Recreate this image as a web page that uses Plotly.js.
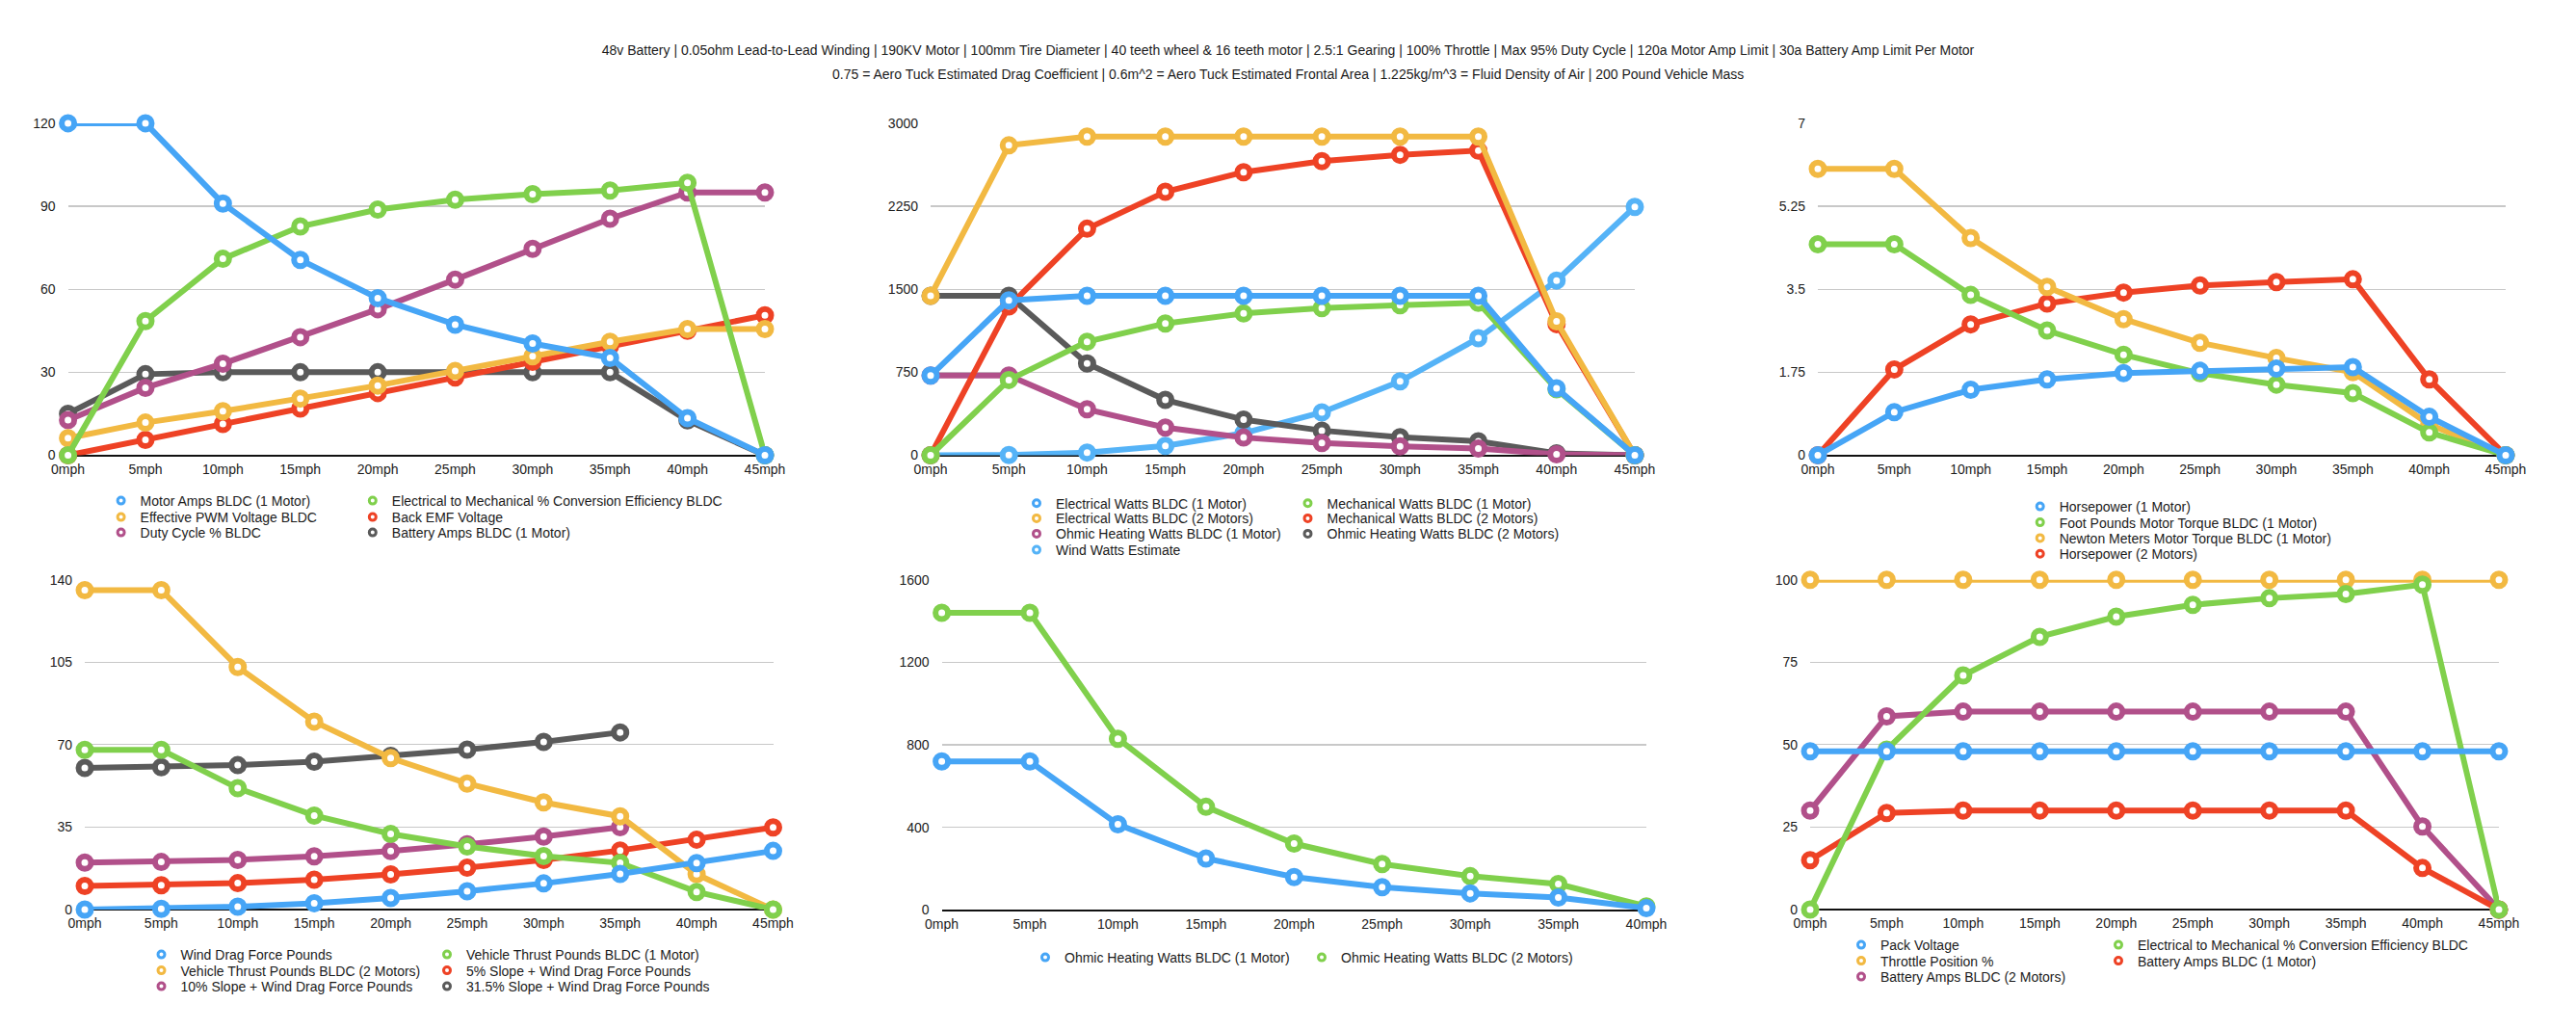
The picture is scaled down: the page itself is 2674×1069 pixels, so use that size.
<!DOCTYPE html>
<html>
<head>
<meta charset="utf-8">
<script src="https://cdn.plot.ly/plotly-3.0.1.min.js"></script>
<style>
  html, body { margin: 0; padding: 0; background: #fff; }
  #chart { width: 2674px; height: 1069px; }
</style>
</head>
<body>
<div id="chart"></div>
<script>
const speeds = ['0mph', '5mph', '10mph', '15mph', '20mph', '25mph', '30mph', '35mph', '40mph', '45mph'];
const speedsTo40 = ['0mph', '5mph', '10mph', '15mph', '20mph', '25mph', '30mph', '35mph', '40mph'];

// top left
const motorAmps1 = [120, 120, 91, 70.6, 56.8, 47.2, 40.4, 35.2, 13.4, 0];
const efficiencyPct = [0, 48.5, 71, 82.7, 88.8, 92.4, 94.4, 95.7, 98.5, 0];
const pwmVoltage = [6.2, 11.8, 15.9, 20.5, 25.2, 30.5, 35.8, 41, 45.6, 45.6];
const backEmf = [0, 5.6, 11.3, 16.9, 22.5, 28.1, 33.8, 39.4, 45, 50.6];
const dutyCycle = [12.7, 24.4, 33.1, 42.7, 52.8, 63.5, 74.6, 85.5, 95, 95];
const batteryAmps1 = [15, 29.3, 30, 30, 30, 30, 30, 30, 12.6, 0];

// top middle
const elecWatts1 = [720, 1400, 1440, 1440, 1440, 1440, 1440, 1440, 605, 0];
const mechWatts1 = [0, 680, 1026, 1191, 1281, 1330, 1355, 1377, 596, 0];
const elecWatts2 = [1440, 2800, 2880, 2880, 2880, 2880, 2880, 2880, 1210, 0];
const mechWatts2 = [0, 1345, 2047, 2381, 2558, 2658, 2715, 2754, 1185, 0];
const ohmicWatts1 = [720, 720, 415, 250, 160, 111, 81, 61, 9, 0];
const ohmicWatts2 = [1440, 1440, 830, 500, 322, 223, 164, 126, 18, 0];
const windWatts = [0, 3, 25, 85, 200, 388, 668, 1057, 1579, 2244];

// top right
const hp1 = [0, 0.91, 1.38, 1.6, 1.73, 1.78, 1.83, 1.86, 0.81, 0];
const torqueFtLb = [4.45, 4.45, 3.38, 2.63, 2.12, 1.73, 1.49, 1.31, 0.48, 0];
const torqueNm = [6.04, 6.04, 4.58, 3.55, 2.87, 2.37, 2.05, 1.75, 0.65, 0];
const hp2 = [0, 1.81, 2.76, 3.2, 3.43, 3.58, 3.65, 3.71, 1.6, 0];

// bottom left
const windDragLb = [0, 0.3, 1.2, 2.7, 4.9, 7.8, 11.1, 15.1, 19.7, 24.9];
const thrust1 = [67.8, 67.8, 51.5, 39.9, 32.1, 26.8, 22.7, 19.8, 7.5, 0];
const thrust2 = [135.6, 135.6, 103, 79.8, 64.3, 53.5, 45.5, 39.6, 15, 0];
const slope5 = [10, 10.3, 11.2, 12.7, 14.9, 17.8, 21.1, 25.1, 29.7, 34.9];
const slope10 = [19.9, 20.2, 21.1, 22.6, 24.8, 27.7, 31, 35, null, null];
const slope315 = [60.1, 60.4, 61.3, 62.8, 65.2, 67.9, 71.2, 75.2, null, null];

// bottom middle
const ohmicWatts1To40 = [720, 720, 415, 250, 160, 111, 81, 61, 9];
const ohmicWatts2To40 = [1440, 1440, 830, 500, 322, 223, 164, 126, 18];

// bottom right
const packVoltage = [48, 48, 48, 48, 48, 48, 48, 48, 48, 48];
const throttlePct = [100, 100, 100, 100, 100, 100, 100, 100, 100, 100];
const batteryAmps2 = [30, 58.6, 60, 60, 60, 60, 60, 60, 25.2, 0];

const titleLine1 = '48v Battery | 0.05ohm Lead-to-Lead Winding | 190KV Motor | 100mm Tire Diameter | 40 teeth wheel & 16 teeth motor | 2.5:1 Gearing | 100% Throttle | Max 95% Duty Cycle | 120a Motor Amp Limit | 30a Battery Amp Limit Per Motor';
const titleLine2 = '0.75 = Aero Tuck Estimated Drag Coefficient | 0.6m^2 = Aero Tuck Estimated Frontal Area | 1.225kg/m^3 = Fluid Density of Air | 200 Pound Vehicle Mass';

const W = 2674, H = 1069;
const FONT = '"Liberation Sans", Arial, sans-serif';
const TXT = '#1b1b1b';
const blue = '#46a5f6', green = '#80d04c', yellow = '#f2b942', red = '#ee4225', purple = '#b1508a', gray = '#5a5a5a', lightBlue = '#55b3f7';

// panel geometry in pixels: plot area left/right, bottom (y=0) / top (max tick)
const charts = [
  {cats: speeds, x0: 70.6, x1: 794, yb: 472.5, yt: 127.9, ymax: 120, ticks: [0, 30, 60, 90, 120],
   cols: [124.6, 385.8], rows: [520, 537, 553],
   series: [
     ['Motor Amps BLDC (1 Motor)', motorAmps1, blue],
     ['Electrical to Mechanical % Conversion Efficiency BLDC', efficiencyPct, green],
     ['Effective PWM Voltage BLDC', pwmVoltage, yellow],
     ['Back EMF Voltage', backEmf, red],
     ['Duty Cycle % BLDC', dutyCycle, purple],
     ['Battery Amps BLDC (1 Motor)', batteryAmps1, gray]
   ]},
  {cats: speeds, x0: 966, x1: 1697, yb: 472.5, yt: 127.9, ymax: 3000, ticks: [0, 750, 1500, 2250, 3000],
   cols: [1075, 1356.5], rows: [522.7, 538.3, 554.3, 571],
   series: [
     ['Electrical Watts BLDC (1 Motor)', elecWatts1, blue],
     ['Mechanical Watts BLDC (1 Motor)', mechWatts1, green],
     ['Electrical Watts BLDC (2 Motors)', elecWatts2, yellow],
     ['Mechanical Watts BLDC (2 Motors)', mechWatts2, red],
     ['Ohmic Heating Watts BLDC (1 Motor)', ohmicWatts1, purple],
     ['Ohmic Heating Watts BLDC (2 Motors)', ohmicWatts2, gray],
     ['Wind Watts Estimate', windWatts, lightBlue]
   ]},
  {cats: speeds, x0: 1887, x1: 2601, yb: 472.5, yt: 127.9, ymax: 7, ticks: [0, 1.75, 3.5, 5.25, 7],
   cols: [2116.7], rows: [526, 542.5, 558.8, 575.2],
   series: [
     ['Horsepower (1 Motor)', hp1, blue],
     ['Foot Pounds Motor Torque BLDC (1 Motor)', torqueFtLb, green],
     ['Newton Meters Motor Torque BLDC (1 Motor)', torqueNm, yellow],
     ['Horsepower (2 Motors)', hp2, red]
   ]},
  {cats: speeds, x0: 88, x1: 802.5, yb: 944, yt: 601.7, ymax: 140, ticks: [0, 35, 70, 105, 140],
   cols: [166.5, 463], rows: [991, 1007.5, 1024],
   series: [
     ['Wind Drag Force Pounds', windDragLb, blue],
     ['Vehicle Thrust Pounds BLDC (1 Motor)', thrust1, green],
     ['Vehicle Thrust Pounds BLDC (2 Motors)', thrust2, yellow],
     ['5% Slope + Wind Drag Force Pounds', slope5, red],
     ['10% Slope + Wind Drag Force Pounds', slope10, purple],
     ['31.5% Slope + Wind Drag Force Pounds', slope315, gray]
   ]},
  {cats: speedsTo40, x0: 977.6, x1: 1709, yb: 944.5, yt: 601.7, ymax: 1600, ticks: [0, 400, 800, 1200, 1600],
   cols: [1084, 1371], rows: [994],
   series: [
     ['Ohmic Heating Watts BLDC (1 Motor)', ohmicWatts1To40, blue],
     ['Ohmic Heating Watts BLDC (2 Motors)', ohmicWatts2To40, green]
   ]},
  {cats: speeds, x0: 1879, x1: 2594, yb: 944, yt: 601.7, ymax: 100, ticks: [0, 25, 50, 75, 100],
   cols: [1931, 2198], rows: [981, 997.5, 1014],
   series: [
     ['Pack Voltage', packVoltage, blue],
     ['Electrical to Mechanical % Conversion Efficiency BLDC', efficiencyPct, green],
     ['Throttle Position %', throttlePct, yellow],
     ['Battery Amps BLDC (1 Motor)', batteryAmps1, red],
     ['Battery Amps BLDC (2 Motors)', batteryAmps2, purple]
   ]}
];

const data = [];
const layout = {
  width: W, height: H,
  margin: {l: 0, r: 0, t: 0, b: 0},
  paper_bgcolor: '#fff', plot_bgcolor: '#fff',
  font: {family: FONT, size: 14, color: TXT},
  showlegend: true,
  hovermode: false,
  title: {text: titleLine1, font: {family: FONT, size: 14, color: TXT},
          x: 0.5, xanchor: 'center', y: 1 - 51.8 / H, yanchor: 'middle'},
  annotations: [{text: titleLine2, xref: 'paper', yref: 'paper', x: 0.5, y: 1 - 76.8 / H,
                 xanchor: 'center', yanchor: 'middle', showarrow: false,
                 font: {family: FONT, size: 14, color: TXT}}]
};

let legendCount = 0;
charts.forEach((c, k) => {
  const sfx = k === 0 ? '' : String(k + 1);
  const xa = 'x' + sfx, ya = 'y' + sfx;
  layout['xaxis' + sfx] = {
    domain: [c.x0 / W, c.x1 / W], anchor: ya, type: 'category',
    range: [0, c.cats.length - 1], showgrid: false, zeroline: false, showline: false,
    ticks: '', ticklabelstandoff: 4, tickfont: {size: 14, color: TXT}, fixedrange: true
  };
  layout['yaxis' + sfx] = {
    domain: [1 - c.yb / H, 1 - c.yt / H], anchor: xa,
    range: [0, c.ymax], tickmode: 'array', tickvals: c.ticks,
    showgrid: true, gridcolor: '#c8c8c8', gridwidth: 1.3,
    zeroline: true, zerolinecolor: '#111', zerolinewidth: 2, showline: false,
    ticks: '', ticklabelstandoff: 12, tickfont: {size: 14, color: TXT}, fixedrange: true
  };
  // first series is drawn on top, so add them in reverse
  for (let i = c.series.length - 1; i >= 0; i--) {
    const [name, vals, col] = c.series[i];
    data.push({
      type: 'scatter', mode: 'lines+markers', name: name,
      x: c.cats, y: vals, xaxis: xa, yaxis: ya,
      line: {color: col, width: 6},
      marker: {size: 13, color: '#fff', line: {color: col, width: 6}},
      cliponaxis: false, showlegend: false, legendgroup: 'g' + k + '_' + i
    });
  }
  // one small legend per entry, laid out row by row
  c.series.forEach(([name, vals, col], i) => {
    legendCount++;
    const lg = legendCount === 1 ? 'legend' : 'legend' + legendCount;
    const colX = c.cols[i % c.cols.length];
    const rowY = c.rows[Math.floor(i / c.cols.length)];
    layout[lg] = {
      x: (colX - 19) / W, xanchor: 'left', y: 1 - rowY / H, yanchor: 'middle',
      bgcolor: 'rgba(0,0,0,0)', borderwidth: 0,
      font: {family: FONT, size: 14, color: TXT}
    };
    data.push({
      type: 'scatter', mode: 'markers', name: name,
      x: [null], y: [null], xaxis: xa, yaxis: ya, legend: lg,
      marker: {size: 7, color: '#fff', line: {color: col, width: 3}},
      legendgroup: 'g' + k + '_' + i, hoverinfo: 'skip'
    });
  });
});

Plotly.newPlot('chart', data, layout, {displayModeBar: false, staticPlot: true});
</script>
</body>
</html>
